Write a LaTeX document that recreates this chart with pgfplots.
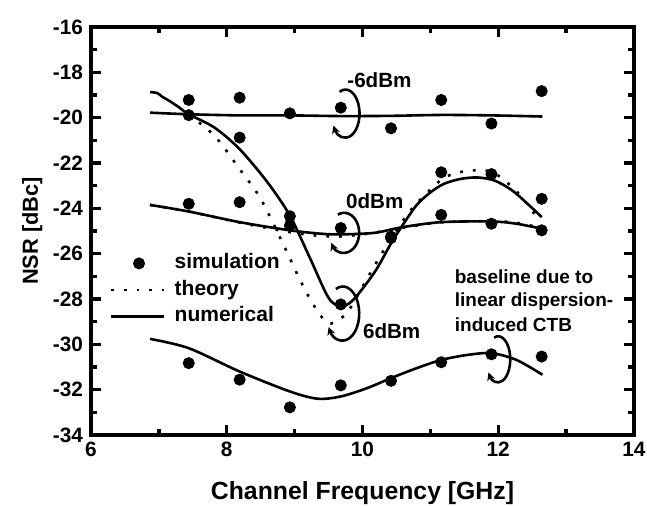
\documentclass[border=0pt]{standalone}
\usepackage{fontspec}
\setmainfont{Liberation Sans}
\usepackage{pgfplots}
\pgfplotsset{compat=1.18}
\usetikzlibrary{arrows.meta}

\begin{document}
\begin{tikzpicture}
\begin{axis}[
  scale only axis, width=271.5pt, height=204pt,
  xmin=6, xmax=14, ymin=-34, ymax=-16,
  xtick={6,8,...,14}, ytick={-34,-32,...,-16},
  minor x tick num=1, minor y tick num=1,
  tick align=inside, major tick length=4.8pt, minor tick length=2.8pt,
  axis line style={line width=2pt},
  every tick/.style={line width=1.7pt, black},
  /pgf/number format/assume math mode=true,
  tick label style={font=\fontsize{10.4}{12}\selectfont\bfseries},
  yticklabel style={xshift=-0.5pt},
  xlabel={Channel Frequency [GHz]}, ylabel={NSR [dBc]},
  every axis x label/.style={at={(axis description cs:0.5,-0.142)}, anchor=center, font=\fontsize{12.4}{14}\selectfont\bfseries},
  every axis y label/.style={at={(axis description cs:-0.108,0.5)}, rotate=90, anchor=center, font=\fontsize{10.9}{13}\selectfont\bfseries},
  legend style={at={(axis cs:6.27,-25.83)}, anchor=north west, draw=none, fill=none, inner sep=0pt,
    font=\fontsize{10.5}{12}\selectfont\bfseries, row sep=0pt, column sep=0pt,
    nodes={text height=7.6pt, text depth=2.2pt, inner sep=1.7pt}},
  legend cell align=left,
  legend image code/.code={\draw[#1] (0pt,0pt) -- (26.5pt,0pt); \path (29.5pt,0pt);},
]
\addlegendimage{legend image code/.code={\fill[black] (14pt,0pt) circle (2.8pt); \path (0pt,0pt) (29.5pt,0pt);}}
\addlegendentry{simulation}
\addlegendimage{black, line width=1.3pt, dash pattern=on 1.4pt off 5pt}
\addlegendentry{theory}
\addlegendimage{black, line width=1.3pt}
\addlegendentry{numerical}

% -6 dBm
\addplot[forget plot, black, line width=1.3pt, smooth] coordinates {
(6.87,-19.78) (7.44,-19.85) (8.19,-19.9) (8.93,-19.9) (9.68,-19.93) (10.42,-19.92) (11.16,-19.88) (11.90,-19.9) (12.65,-19.95)};
% 0 dBm theory
\addplot[forget plot, black, line width=1.3pt, dash pattern=on 1.4pt off 5pt, smooth] coordinates {
(6.87,-23.85) (7.44,-24.14) (8.19,-24.63) (8.93,-25.05) (9.39,-25.22) (9.68,-25.24) (10.07,-25.12) (10.59,-24.86) (11.16,-24.62) (11.90,-24.56) (12.27,-24.64) (12.64,-24.87)};
% 0 dBm numerical
\addplot[forget plot, black, line width=1.3pt, smooth] coordinates {
(6.87,-23.85) (7.44,-24.14) (8.19,-24.61) (8.93,-24.97) (9.39,-25.12) (9.68,-25.15) (10.18,-25.08) (10.59,-24.83) (11.16,-24.61) (11.90,-24.58) (12.27,-24.68) (12.64,-24.90)};
% 6 dBm theory
\addplot[forget plot, black, line width=1.3pt, dash pattern=on 1.4pt off 5pt, smooth] coordinates {
(7.44,-19.87) (7.82,-20.80) (8.19,-22.27) (8.50,-23.58) (8.84,-25.63) (9.07,-27.10) (9.28,-28.27) (9.49,-29.07) (9.68,-28.85) (9.81,-28.45) (10.18,-26.52) (10.42,-25.34) (10.70,-24.12) (11.01,-23.15) (11.22,-22.62) (11.54,-22.35) (11.91,-22.40) (12.27,-23.25) (12.53,-24.24)};
% 6 dBm numerical
\addplot[forget plot, black, line width=1.3pt, smooth] coordinates {
(6.87,-18.87) (6.98,-18.92) (7.05,-19.08) (7.15,-19.25) (7.30,-19.55) (7.44,-19.85) (7.82,-20.44) (8.19,-21.39) (8.60,-22.85) (8.93,-24.32) (9.23,-26.22) (9.50,-27.95) (9.68,-28.32) (9.86,-28.05) (10.18,-26.81) (10.42,-25.55) (10.59,-24.75) (10.80,-23.85) (11.00,-23.30) (11.20,-22.92) (11.45,-22.70) (11.70,-22.64) (11.95,-22.78) (12.20,-23.20) (12.45,-23.85) (12.64,-24.39)};
% baseline
\addplot[forget plot, black, line width=1.3pt, smooth] coordinates {
(6.87,-29.76) (7.44,-30.17) (8.19,-31.20) (8.93,-32.08) (9.34,-32.40) (9.68,-32.30) (10.07,-31.93) (10.42,-31.49) (10.80,-31.05) (11.16,-30.69) (11.54,-30.47) (11.90,-30.39) (12.27,-30.69) (12.65,-31.34)};

% simulation points
\addplot[forget plot, only marks, mark=*, mark size=2.8pt, black] coordinates {
(7.44,-19.22) (8.19,-19.12) (8.93,-19.81) (9.68,-19.56) (10.42,-20.47) (11.16,-19.22) (11.90,-20.26) (12.64,-18.83)};
\addplot[forget plot, only marks, mark=*, mark size=2.8pt, black] coordinates {
(7.44,-23.80) (8.19,-23.73) (8.93,-24.76) (9.68,-24.87) (10.42,-25.25) (11.16,-24.29) (11.90,-24.68) (12.64,-24.97)};
\addplot[forget plot, only marks, mark=*, mark size=2.8pt, black] coordinates {
(7.44,-19.89) (8.19,-20.88) (8.93,-24.35) (9.68,-28.24) (10.42,-25.31) (11.16,-22.41) (11.90,-22.49) (12.64,-23.58)};
\addplot[forget plot, only marks, mark=*, mark size=2.8pt, black] coordinates {
(7.44,-30.83) (8.19,-31.56) (8.93,-32.78) (9.68,-31.81) (10.42,-31.61) (11.16,-30.79) (11.90,-30.44) (12.64,-30.54)};

\coordinate (L1) at (axis cs:9.75,-19.82);
\coordinate (L2) at (axis cs:9.73,-25.08);
\coordinate (L3) at (axis cs:9.71,-28.64);
\coordinate (L4) at (axis cs:12.0,-30.66);
\coordinate (ll) at (rel axis cs:0,0);
\coordinate (ur) at (rel axis cs:1,1);

\begin{scope}[font=\fontsize{10.3}{12}\selectfont\bfseries]
\node at (axis cs:10.25,-18.34) {-6dBm};
\node at (axis cs:10.18,-23.69) {0dBm};
\node at (axis cs:10.43,-29.41) {6dBm};
\end{scope}
\begin{scope}[font=\fontsize{9.5}{11}\selectfont\bfseries]
\node[anchor=west, inner sep=0pt] at (axis cs:11.355,-27.02) {baseline due to};
\node[anchor=west, inner sep=0pt] at (axis cs:11.355,-28.12) {linear dispersion-};
\node[anchor=west, inner sep=0pt] at (axis cs:11.355,-29.15) {induced CTB};
\end{scope}
\end{axis}
\begin{scope}[line width=1.3pt, -{Stealth[length=4pt,width=4pt]}]
\draw (L1) ++(115:7pt and 12pt) arc[start angle=115, end angle=-150, x radius=7pt, y radius=12pt];
\draw (L2) ++(115:7.5pt and 10pt) arc[start angle=115, end angle=-150, x radius=7.5pt, y radius=10pt];
\draw (L3) ++(115:8.2pt and 13.5pt) arc[start angle=115, end angle=-150, x radius=8.2pt, y radius=13.5pt];
\draw (L4) ++(110:6pt and 11.5pt) arc[start angle=110, end angle=-145, x radius=6pt, y radius=11.5pt];
\end{scope}
\pgfresetboundingbox
\path ([shift={(-45.5pt,-35.5pt)}]ll) rectangle ([shift={(6.5pt,13.5pt)}]ur);
\end{tikzpicture}
\end{document}
